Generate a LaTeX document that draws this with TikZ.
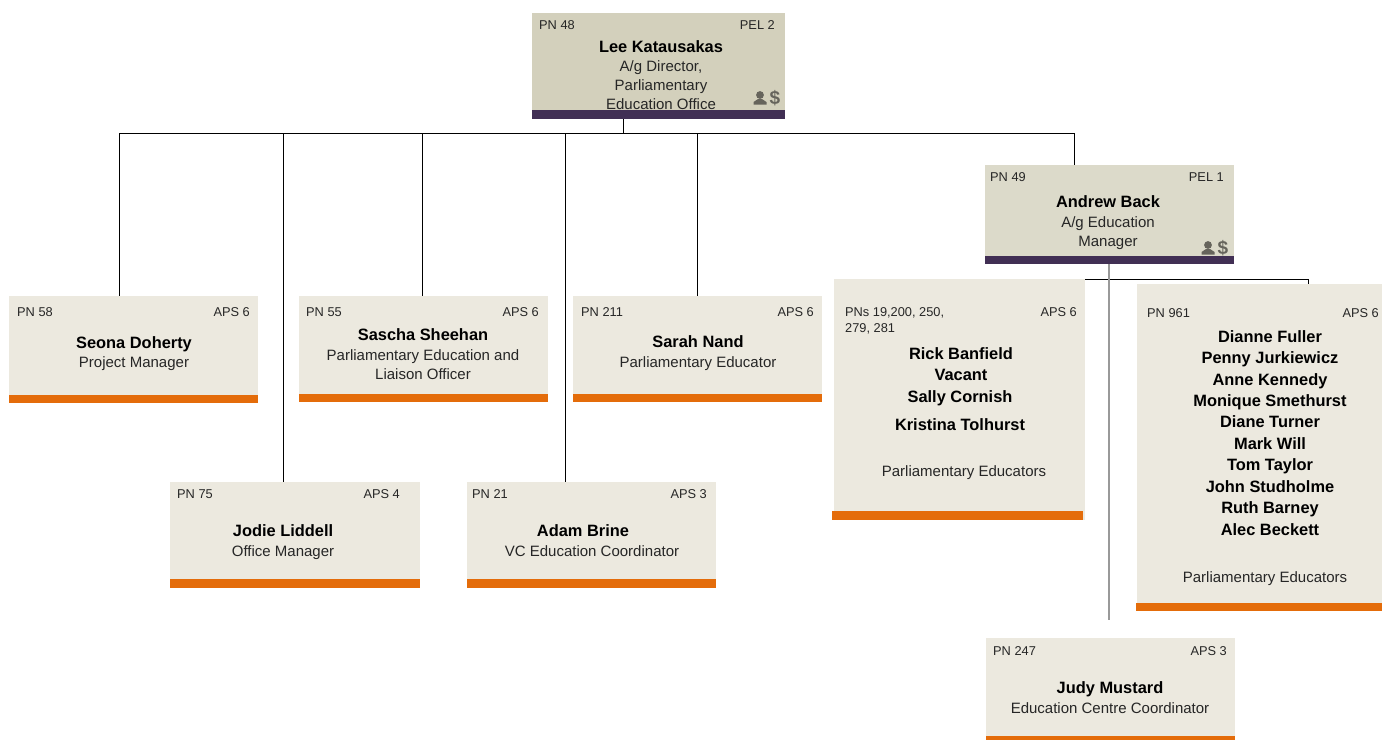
\documentclass[tikz,border=0pt]{standalone}
\usepackage{fontspec}
\setmainfont{Liberation Sans}
\definecolor{topfill}{HTML}{D3D0BC}
\definecolor{midfill}{HTML}{DCDACA}
\definecolor{lowfill}{HTML}{ECE9DF}
\definecolor{plum}{HTML}{412F54}
\definecolor{orangebar}{HTML}{E46C0A}
\definecolor{iconc}{HTML}{66645C}
\tikzset{
  card/.style={anchor=north west,inner sep=0pt,outer sep=0pt,draw=none},
  wire/.style={draw=black,line width=0.95pt},
  greywire/.style={draw=black!40,line width=1.7pt},
  tag/.style={font=\fontsize{12.8}{14}\selectfont,inner sep=0pt,text=black!85,text height=9.5pt,text depth=0pt},
  who/.style={font=\fontsize{16.4}{18}\selectfont\bfseries,inner sep=0pt,text=black,text height=11.5pt,text depth=0pt},
  job/.style={font=\fontsize{15}{19}\selectfont,inner sep=0pt,align=center,text=black!85,text height=10.5pt,text depth=0pt},
}
% name, x0, y0, x1, y1, bar top, bar bottom, fill, bar colour
\newcommand{\cardbox}[9]{%
  \node[card,fill=#8,minimum width=#4pt-#2pt,minimum height=#7pt-#3pt] (#1) at (#2,#3) {};
}
\newcommand{\cardbar}[9]{%
  \node[card,fill=#9,minimum width=#4pt-#2pt,minimum height=#7pt-#6pt] (#1bar) at (#2,#6) {};
}
\newcommand{\moneyicon}[2]{%
  \fill[iconc] (#1-8,#2-10) circle (3.9);
  \fill[iconc] (#1-14.5,#2-0.5) -- (#1-14.5,#2-3) -- (#1-10,#2-6) -- (#1-6,#2-6) -- (#1-1.5,#2-3) -- (#1-1.5,#2-0.5) -- cycle;
  \node[inner sep=0pt,text=iconc,font=\fontsize{19}{19}\selectfont\bfseries] at (#1+7,#2-7) {\$};
}
\begin{document}
\begin{tikzpicture}[x=1pt,y=-1pt]
\useasboundingbox (0,0) rectangle (1382,740);
% connector joints
\coordinate (stemfoot) at (623,133);
\coordinate (tL) at (119,133);
\coordinate (tR) at (1074,133);
\coordinate (a1) at (119,296);
\coordinate (a2) at (283,482);
\coordinate (a3) at (422,296);
\coordinate (a4) at (565.5,482);
\coordinate (a5) at (697.5,296);
\coordinate (a6) at (1074,165);
\coordinate (b0) at (1109,264);
\coordinate (b1) at (1109,620);
\coordinate (h0) at (1085,279);
\coordinate (h1) at (1308,279);
\coordinate (h2) at (1308,285);
\coordinate (ltop) at (623,119);
% lines behind cards
\draw[wire] (ltop) -- (stemfoot);
\draw[wire] (tL) -- (tR);
\draw[wire] (tL) -- (a1);
\draw[wire] (a2 |- tL) -- (a2);
\draw[wire] (a3 |- tL) -- (a3);
\draw[wire] (a4 |- tL) -- (a4);
\draw[wire] (a5 |- tL) -- (a5);
\draw[wire] (tR) -- (a6);
\draw[wire] (h0) -- (h1) -- (h2);
% Lee
\cardbox{lee}{532}{13}{785}{119}{110}{119}{topfill}{plum}
\node[tag,anchor=west] (lee1) at (539,25) {PN 48};
\node[tag,anchor=east] (lee2) at (775,25) {PEL 2};
\node[who] (lee3) at (661,46.5) {Lee Katausakas};
\node[job] (lee4) at (661,66) {A/g Director,};
\node[job] (lee5) at (661,85) {Parliamentary};
\node[job] (lee6) at (661,104.5) {Education Office};
\cardbar{lee}{532}{13}{785}{119}{110}{119}{topfill}{plum}
\moneyicon{768}{105}
% Andrew
\cardbox{andrew}{985}{165}{1234}{264}{256}{264}{midfill}{plum}
\node[tag,anchor=west] (and1) at (990,176.5) {PN 49};
\node[tag,anchor=east] (and2) at (1224,176.5) {PEL 1};
\node[who] (and3) at (1108,202) {Andrew Back};
\node[job] (and4) at (1108,222) {A/g Education};
\node[job] (and5) at (1108,241) {Manager};
\cardbar{andrew}{985}{165}{1234}{264}{256}{264}{midfill}{plum}
\moneyicon{1216}{255}
% Seona
\cardbox{seona}{9}{296}{258}{403}{395}{403}{lowfill}{orangebar}
\cardbar{seona}{9}{296}{258}{403}{395}{403}{lowfill}{orangebar}
\node[tag,anchor=west] (seo1) at (17,312) {PN 58};
\node[tag,anchor=east] (seo2) at (250,312) {APS 6};
\node[who] (seo3) at (134,343) {Seona Doherty};
\node[job] (seo4) at (134,362.5) {Project Manager};
% Sascha
\cardbox{sascha}{299}{296}{548}{402}{394}{402}{lowfill}{orangebar}
\cardbar{sascha}{299}{296}{548}{402}{394}{402}{lowfill}{orangebar}
\node[tag,anchor=west] (sas1) at (306,312) {PN 55};
\node[tag,anchor=east] (sas2) at (539,312) {APS 6};
\node[who] (sas3) at (423,335) {Sascha Sheehan};
\node[job] (sas4) at (423,355) {Parliamentary Education and};
\node[job] (sas5) at (423,374) {Liaison Officer};
% Sarah
\cardbox{sarah}{573}{296}{822}{402}{394}{402}{lowfill}{orangebar}
\cardbar{sarah}{573}{296}{822}{402}{394}{402}{lowfill}{orangebar}
\node[tag,anchor=west] (sar1) at (581,312) {PN 211};
\node[tag,anchor=east] (sar2) at (814,312) {APS 6};
\node[who] (sar3) at (698,342) {Sarah Nand};
\node[job] (sar4) at (698,362) {Parliamentary Educator};
% Jodie
\cardbox{jodie}{170}{482}{420}{588}{579}{588}{lowfill}{orangebar}
\cardbar{jodie}{170}{482}{420}{588}{579}{588}{lowfill}{orangebar}
\node[tag,anchor=west] (jod1) at (177,494) {PN 75};
\node[tag,anchor=east] (jod2) at (400,494) {APS 4};
\node[who] (jod3) at (283,531) {Jodie Liddell};
\node[job] (jod4) at (283,551) {Office Manager};
% Adam
\cardbox{adam}{467}{482}{716}{588}{579}{588}{lowfill}{orangebar}
\cardbar{adam}{467}{482}{716}{588}{579}{588}{lowfill}{orangebar}
\node[tag,anchor=west] (ada1) at (472,494) {PN 21};
\node[tag,anchor=east] (ada2) at (707,494) {APS 3};
\node[who] (ada3) at (583,531) {Adam Brine};
\node[job] (ada4) at (592,551) {VC Education Coordinator};
% group of five
\cardbox{five}{834}{279}{1085}{520}{511}{520}{lowfill}{orangebar}
\node[card,fill=orangebar,minimum width=251pt,minimum height=9pt] (fivebar) at (832,511) {};
\node[tag,anchor=west] (fiv1) at (845,312) {PNs 19,200, 250,};
\node[tag,anchor=west] (fiv2) at (845,328) {279, 281};
\node[tag,anchor=east] (fiv3) at (1077,312) {APS 6};
\node[who] (fiv4) at (961,354) {Rick Banfield};
\node[who] (fiv5) at (961,375) {Vacant};
\node[who] (fiv6) at (960,397) {Sally Cornish};
\node[who] (fiv7) at (960,425) {Kristina Tolhurst};
\node[job] (fiv8) at (964,471) {Parliamentary Educators};
% group of ten
\cardbox{ten}{1137}{284}{1382}{611}{603}{611}{lowfill}{orangebar}
\node[card,fill=orangebar,minimum width=246pt,minimum height=8pt] (tenbar) at (1136,603) {};
\node[tag,anchor=west] (ten1) at (1147,313) {PN 961};
\node[tag,anchor=east] (ten2) at (1379,313) {APS 6};
\node[who] (ten3) at (1270,337) {Dianne Fuller};
\node[who] (ten4) at (1270,358) {Penny Jurkiewicz};
\node[who] (ten5) at (1270,380) {Anne Kennedy};
\node[who] (ten6) at (1270,401) {Monique Smethurst};
\node[who] (ten7) at (1270,422) {Diane Turner};
\node[who] (ten8) at (1270,444) {Mark Will};
\node[who] (ten9) at (1270,465) {Tom Taylor};
\node[who] (ten10) at (1270,487) {John Studholme};
\node[who] (ten11) at (1270,508) {Ruth Barney};
\node[who] (ten12) at (1270,530) {Alec Beckett};
\node[job] (ten13) at (1265,577) {Parliamentary Educators};
% Judy
\cardbox{judy}{986}{638}{1235}{740}{736}{740}{lowfill}{orangebar}
\cardbar{judy}{986}{638}{1235}{740}{736}{740}{lowfill}{orangebar}
\node[tag,anchor=west] (jud1) at (993,651) {PN 247};
\node[tag,anchor=east] (jud2) at (1227,651) {APS 3};
\node[who] (jud3) at (1110,688) {Judy Mustard};
\node[job] (jud4) at (1110,708) {Education Centre Coordinator};
% grey connector on top
\draw[greywire] (b0) -- (b1);
\end{tikzpicture}
\end{document}
